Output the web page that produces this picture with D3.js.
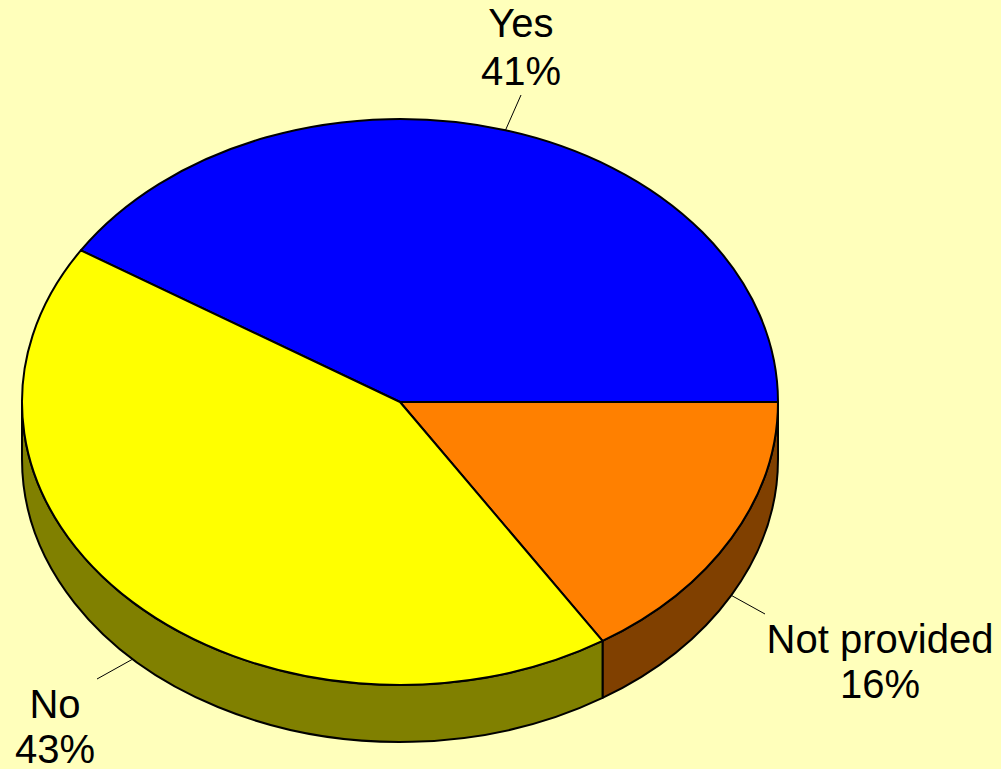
<!DOCTYPE html>
<html>
<head>
<meta charset="utf-8">
<script src="https://cdn.jsdelivr.net/npm/d3@7"></script>
<style>
  html, body { margin: 0; padding: 0; background: #FFFFBB; }
  svg { display: block; }
</style>
</head>
<body>
<svg id="chart" width="1001" height="769"></svg>
<script>
// ---- data ----
const categories = ["Yes", "Not provided", "No"];
const values = [41, 16, 43];
const labels = ["41%", "16%", "43%"];
const topColors = ["#0000FF", "#FF8000", "#FFFF00"];
const sideColors = ["#00007F", "#804000", "#808000"];

// ---- layout ----
const W = 1001, H = 769;
const cx = 400, cy = 402, rx = 378, ry = 283, depth = 57;
const startDeg = -57.6;
// label layout: leader end point, text centre x, first baseline, line gap
const labelLayout = {
  "Yes": { lx: 521, ly: 95, tx: 521, ty: 37, gap: 48 },
  "Not provided": { lx: 765, ly: 614, tx: 880, ty: 653, gap: 45 },
  "No": { lx: 97, ly: 679, tx: 55, ty: 718, gap: 45 }
};

const svg = d3.select("#chart");
svg.append("rect").attr("width", W).attr("height", H).attr("fill", "#FFFFBB");

const data = categories.map((c, i) => ({ cat: c, value: values[i], label: labels[i], top: topColors[i], side: sideColors[i] }));

const start = startDeg * Math.PI / 180;
const pie = d3.pie().sort(null).value(d => d.value).startAngle(start).endAngle(start + 2 * Math.PI);
const arcs = pie(data);

const px = a => cx + rx * Math.sin(a);
const py = a => cy - ry * Math.cos(a);

function topPath(a0, a1) {
  const large = (a1 - a0) > Math.PI ? 1 : 0;
  return `M${cx},${cy}L${px(a0)},${py(a0)}A${rx},${ry} 0 ${large} 1 ${px(a1)},${py(a1)}Z`;
}
function sidePath(a0, a1) {
  const large = (a1 - a0) > Math.PI ? 1 : 0;
  return `M${px(a0)},${py(a0)}A${rx},${ry} 0 ${large} 1 ${px(a1)},${py(a1)}` +
         `L${px(a1)},${py(a1) + depth}A${rx},${ry} 0 ${large} 0 ${px(a0)},${py(a0) + depth}Z`;
}

// visible side walls: angles between PI/2 and 3PI/2
const g = svg.append("g");
arcs.forEach(a => {
  let a0 = a.startAngle, a1 = a.endAngle;
  const lo = Math.max(a0, Math.PI / 2), hi = Math.min(a1, 3 * Math.PI / 2);
  if (hi - lo > 1e-6) {
    g.append("path").attr("d", sidePath(lo, hi))
      .attr("fill", a.data.side).attr("stroke", "#000").attr("stroke-width", 2)
      .attr("stroke-linejoin", "round");
  }
});
arcs.forEach(a => {
  g.append("path").attr("d", topPath(a.startAngle, a.endAngle))
    .attr("fill", a.data.top).attr("stroke", "#000").attr("stroke-width", 2)
    .attr("stroke-linejoin", "round");
});

// labels with leader lines
arcs.forEach(a => {
  const mid = (a.startAngle + a.endAngle) / 2;
  let ax = px(mid), ay = py(mid);
  const m = ((mid % (2 * Math.PI)) + 2 * Math.PI) % (2 * Math.PI);
  if (m > Math.PI / 2 && m < 3 * Math.PI / 2) ay += depth;
  const L = labelLayout[a.data.cat];
  svg.append("line").attr("x1", ax).attr("y1", ay).attr("x2", L.lx).attr("y2", L.ly)
    .attr("stroke", "#000").attr("stroke-width", 1);
  const t = svg.append("text").attr("x", L.tx).attr("y", L.ty)
    .attr("text-anchor", "middle")
    .attr("font-family", "'Liberation Sans', Arial, sans-serif")
    .attr("font-size", 40).attr("fill", "#000");
  t.append("tspan").attr("x", L.tx).text(a.data.cat);
  t.append("tspan").attr("x", L.tx).attr("dy", L.gap).text(a.data.label);
});
</script>
</body>
</html>
